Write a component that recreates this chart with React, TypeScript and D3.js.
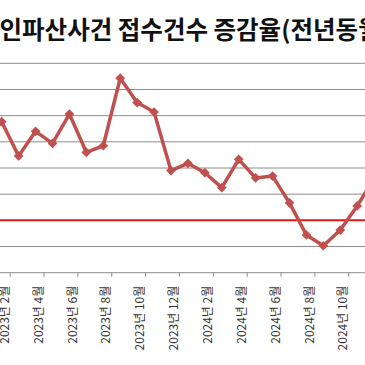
import * as d3 from "d3";
import { useEffect, useRef } from "react";

// 개인파산사건 접수건수 증감율 (전년동월 대비, %)
const months = [
  "2023년 1월", "2023년 2월", "2023년 3월", "2023년 4월", "2023년 5월", "2023년 6월",
  "2023년 7월", "2023년 8월", "2023년 9월", "2023년 10월", "2023년 11월", "2023년 12월",
  "2024년 1월", "2024년 2월", "2024년 3월", "2024년 4월", "2024년 5월", "2024년 6월",
  "2024년 7월", "2024년 8월", "2024년 9월", "2024년 10월", "2024년 11월", "2024년 12월",
];
const rates = [
  30, 37.7, 24.6, 34.0, 29.4, 40.6, 26.0, 28.5, 54.3, 45.0, 41.4, 19.0,
  21.8, 18.2, 12.5, 23.3, 16.2, 16.9, 6.7, -5.6, -9.7, -3.7, 5.5, 16,
];
const yTicks = [-20, -10, 0, 10, 20, 30, 40, 50, 60];
const title = "개인파산사건 접수건수 증감율(전년동월 대비)";

export default function App() {
  const containerRef = useRef<HTMLDivElement>(null);

  useEffect(() => {
    const root = d3.select(containerRef.current);
    if (!root.select("svg").empty()) return;

    const width = 365;
    const height = 365;

    // The picture is a crop of a wider chart, so the plot runs past both edges.
    const x = d3.scaleBand().domain(months).range([-23.7, 382.6]).padding(0);
    const cx = (m: string) => (x(m) as number) + x.bandwidth() / 2;
    const y = d3.scaleLinear().domain([-20, 60]).range([272.7, 63.3]);

    const svg = root
      .append("svg")
      .attr("width", width)
      .attr("height", height)
      .attr("viewBox", [0, 0, width, height])
      .style("position", "absolute")
      .style("left", 0)
      .style("top", 0)
      .style("background", "#fff");

    // title
    svg
      .append("text")
      .attr("x", -23)
      .attr("y", 39)
      .attr("font-family", "'Noto Sans CJK KR', sans-serif")
      .attr("font-weight", "bold")
      .attr("font-size", 24.5)
      .attr("fill", "#111")
      .text(title);

    // gridlines
    svg
      .append("g")
      .selectAll("line")
      .data(yTicks.filter((d) => d > -20))
      .join("line")
      .attr("x1", 0)
      .attr("x2", width)
      .attr("y1", (d) => y(d))
      .attr("y2", (d) => y(d))
      .attr("stroke", "#8c8c8c")
      .attr("stroke-width", 1);

    // x axis line and ticks between categories (every 2nd)
    svg
      .append("line")
      .attr("x1", 0)
      .attr("x2", width)
      .attr("y1", y(-20))
      .attr("y2", y(-20))
      .attr("stroke", "#8c8c8c");

    const tickMonths = months.filter((_, i) => i % 2 === 0 && i > 0);
    svg
      .append("g")
      .selectAll("line")
      .data(tickMonths)
      .join("line")
      .attr("x1", (m) => x(m) as number)
      .attr("x2", (m) => x(m) as number)
      .attr("y1", y(-20))
      .attr("y2", y(-20) + 4)
      .attr("stroke", "#8c8c8c");

    // category labels, rotated
    svg
      .append("g")
      .selectAll("text")
      .data(months.filter((_, i) => i % 2 === 1))
      .join("text")
      .attr("transform", (m) => `translate(${cx(m) + 3},${y(-20) + 13}) rotate(-90)`)
      .attr("text-anchor", "end")
      .attr("dy", "0.35em")
      .attr("font-family", "'Noto Sans CJK KR', sans-serif")
      .attr("font-size", 12)
      .attr("fill", "#333")
      .text((m) => m);

    // zero line
    svg
      .append("line")
      .attr("x1", 0)
      .attr("x2", width)
      .attr("y1", y(0))
      .attr("y2", y(0))
      .attr("stroke", "#e31b1b")
      .attr("stroke-width", 2);

    // series line
    const line = d3
      .line<number>()
      .x((_, i) => cx(months[i]))
      .y((d) => y(d));

    svg
      .append("path")
      .attr("d", line(rates))
      .attr("fill", "none")
      .attr("stroke", "#c0504d")
      .attr("stroke-width", 3.5)
      .attr("stroke-linejoin", "round");

    // diamond markers
    const diamond = d3.symbol(d3.symbolDiamond2, 60);
    svg
      .append("g")
      .selectAll("path")
      .data(rates)
      .join("path")
      .attr("transform", (d, i) => `translate(${cx(months[i])},${y(d)})`)
      .attr("d", diamond())
      .attr("fill", "#c0504d");
  }, []);

  return <div ref={containerRef} style={{ width: 365, height: 365 }} />;
}
